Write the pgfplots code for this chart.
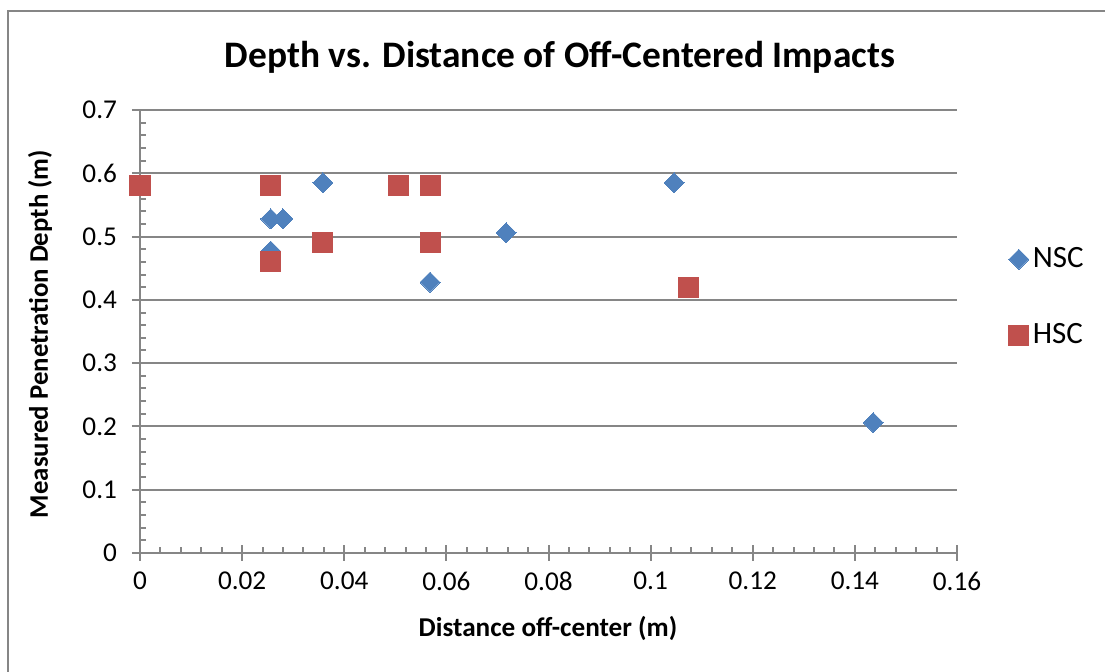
\documentclass[border=0pt]{standalone}
\usepackage{fontspec}
\setmainfont{Carlito}
\usepackage{pgfplots}
\pgfplotsset{compat=1.18}
\definecolor{nsc}{HTML}{4F81BD}
\definecolor{hsc}{HTML}{C0504D}
\definecolor{axgrey}{HTML}{868686}
\begin{document}
\begin{tikzpicture}[x=0.5pt,y=0.5pt]
\useasboundingbox (0,0) rectangle (1105,671);
\draw[axgrey, line width=1pt] (8,-20) -- (8,660) -- (1130,660);
\node[font=\fontsize{18.7}{22}\selectfont\bfseries] at (560,614) {Depth vs. Distance of Off-Centered Impacts};
\node[font=\fontsize{13.6}{16}\selectfont\bfseries] at (548,43) {Distance off-center (m)};
\node[font=\fontsize{13.4}{16}\selectfont\bfseries, rotate=90] at (40,337) {Measured Penetration Depth (m)};
\begin{axis}[
  at={(70pt,59pt)}, anchor=south west,
  scale only axis, width=408.5pt, height=221.5pt,
  xmin=0, xmax=0.16, ymin=0, ymax=0.7,
  xtick={0,0.02,...,0.16}, ytick={0,0.1,...,0.7},
  xticklabels={0,0.02,0.04,0.06,0.08,0.1,0.12,0.14,0.16},
  yticklabels={0,0.1,0.2,0.3,0.4,0.5,0.6,0.7},
  minor x tick num=4, minor y tick num=4,
  axis x line*=bottom, axis y line*=left,
  axis line style={axgrey, line width=1pt, -},
  tick style={axgrey, line width=1pt},
  tick align=center,
  major tick length=8pt,
  minor tick length=3pt,
  minor x tick style={yshift=1.5pt},
  minor y tick style={xshift=1.5pt},
  ymajorgrids, grid style={axgrey, line width=1pt},
  ticklabel style={font=\fontsize{13.6}{16}\selectfont},
  yticklabel style={xshift=-4pt},
  xticklabel style={yshift=-2pt},
  clip=false,
  legend style={draw=none, fill=none, at={(1.063,0.699)}, anchor=north west,
    font=\fontsize{15.5}{18}\selectfont, row sep=22.5pt, inner sep=0pt},
  legend cell align=left,
]
\addplot[only marks, mark=square*, mark size=3.54pt, mark options={rotate=45, fill=nsc, draw=nsc, line width=0pt}] coordinates {
(0.0256,0.528) (0.028,0.528) (0.0256,0.477) (0.0358,0.585) (0.0568,0.428)
(0.0717,0.506) (0.1046,0.585) (0.1436,0.206)
};
\addlegendentry{NSC}
\addplot[only marks, mark=square*, mark size=5pt, mark options={fill=hsc, draw=hsc, line width=0pt}] coordinates {
(0,0.58) (0.0256,0.58) (0.0256,0.46) (0.0358,0.49) (0.0507,0.58)
(0.0568,0.58) (0.0568,0.49) (0.1075,0.42)
};
\addlegendentry{HSC}
\end{axis}
\end{tikzpicture}
\end{document}
